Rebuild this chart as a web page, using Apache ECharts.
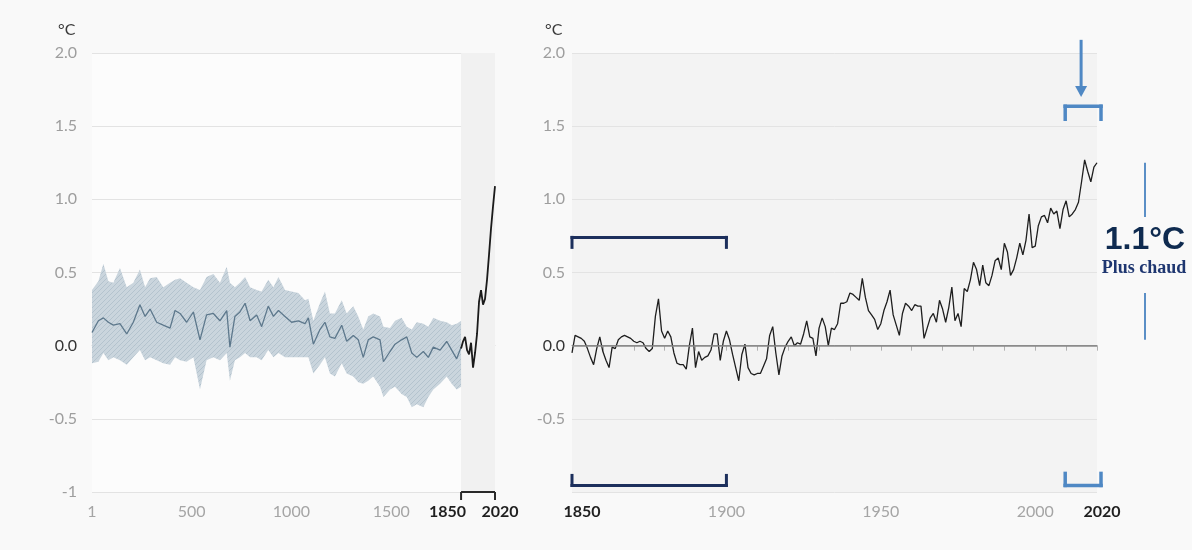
<!DOCTYPE html>
<html><head><meta charset="utf-8">
<script src="https://cdn.jsdelivr.net/npm/echarts@6/dist/echarts.min.js"></script>
<style>html,body{margin:0;padding:0;background:#f9f9f9}#c{width:1192px;height:550px}</style>
</head><body><div id="c"></div>
<script>
// ---- Reconstruction (years 1-1850) ----
const reconYears = [1,33,58,83,108,141,175,208,241,267,292,325,358,392,417,442,475,509,542,575,609,642,676,692,717,742,768,793,826,851,884,910,935,968,1001,1035,1068,1085,1110,1143,1168,1193,1218,1252,1277,1310,1335,1360,1385,1410,1444,1461,1494,1519,1552,1578,1603,1628,1661,1686,1711,1745,1778,1803,1828,1850];
const reconMean = [0.09,0.17,0.19,0.16,0.14,0.15,0.08,0.16,0.28,0.20,0.25,0.16,0.14,0.12,0.24,0.22,0.16,0.23,0.04,0.21,0.22,0.17,0.24,-0.01,0.20,0.23,0.29,0.17,0.21,0.13,0.27,0.20,0.24,0.20,0.16,0.17,0.15,0.19,0.01,0.11,0.16,0.06,0.05,0.14,0.03,0.07,0.04,-0.08,0.04,0.06,0.04,-0.11,-0.04,0.01,0.04,0.06,-0.05,-0.08,-0.04,-0.08,-0.01,-0.03,0.03,-0.03,-0.09,-0.01];
const reconUpper = [0.38,0.44,0.56,0.44,0.43,0.53,0.40,0.43,0.52,0.40,0.46,0.47,0.40,0.43,0.45,0.46,0.43,0.40,0.38,0.47,0.49,0.43,0.54,0.43,0.40,0.43,0.47,0.40,0.38,0.37,0.45,0.40,0.47,0.38,0.37,0.36,0.31,0.32,0.17,0.29,0.37,0.22,0.22,0.31,0.22,0.27,0.20,0.11,0.20,0.22,0.20,0.13,0.12,0.17,0.19,0.13,0.11,0.16,0.15,0.13,0.19,0.17,0.16,0.14,0.15,0.17];
const reconLower = [-0.12,-0.11,-0.05,-0.10,-0.08,-0.10,-0.13,-0.08,-0.03,-0.10,-0.08,-0.10,-0.12,-0.13,-0.08,-0.10,-0.11,-0.08,-0.30,-0.10,-0.08,-0.10,-0.05,-0.24,-0.10,-0.08,-0.05,-0.08,-0.08,-0.10,-0.03,-0.08,-0.05,-0.08,-0.08,-0.08,-0.08,-0.08,-0.19,-0.13,-0.08,-0.19,-0.21,-0.12,-0.19,-0.21,-0.25,-0.26,-0.24,-0.21,-0.28,-0.35,-0.30,-0.28,-0.33,-0.35,-0.42,-0.40,-0.42,-0.35,-0.30,-0.26,-0.21,-0.26,-0.30,-0.28];

// ---- Observations on the left panel (decadal) ----
const obsDecadeYears = [1850,1860,1870,1880,1890,1900,1910,1920,1930,1940,1950,1960,1970,1980,1990,2000,2010,2020];
const obsDecadeValues = [-0.02,0.03,0.06,-0.03,-0.06,0.02,-0.15,-0.05,0.08,0.30,0.38,0.28,0.32,0.45,0.62,0.80,0.95,1.09];

// ---- Annual observations 1850-2020 (right panel) ----
const annualStart = 1850;
const annualValues = [
 -0.05,0.07,0.06,0.05,0.03,-0.02,-0.08,-0.13,-0.02,0.06,
 -0.04,-0.10,-0.15,-0.01,-0.02,0.04,0.06,0.07,0.06,0.05,
 0.03,0.02,0.03,0.02,-0.02,-0.04,-0.02,0.20,0.32,0.10,
 0.05,0.10,0.06,-0.05,-0.12,-0.13,-0.13,-0.16,0.00,0.12,
 -0.15,-0.04,-0.10,-0.08,-0.07,-0.03,0.08,0.08,-0.10,0.03,
 0.10,0.04,-0.06,-0.15,-0.24,-0.06,0.01,-0.15,-0.19,-0.20,
 -0.19,-0.19,-0.14,-0.09,0.07,0.13,-0.05,-0.20,-0.07,-0.01,
 0.03,0.06,0.00,0.02,0.01,0.08,0.17,0.06,0.05,-0.07,
 0.12,0.19,0.13,0.00,0.12,0.11,0.15,0.29,0.29,0.30,
 0.36,0.35,0.33,0.31,0.46,0.33,0.24,0.21,0.18,0.11,
 0.15,0.24,0.30,0.38,0.21,0.14,0.07,0.22,0.29,0.27,
 0.24,0.28,0.27,0.27,0.05,0.12,0.19,0.22,0.16,0.31,
 0.25,0.16,0.26,0.40,0.17,0.22,0.13,0.39,0.37,0.45,
 0.57,0.52,0.41,0.55,0.43,0.41,0.48,0.58,0.60,0.52,
 0.70,0.64,0.48,0.52,0.60,0.70,0.62,0.72,0.90,0.67,
 0.68,0.82,0.88,0.89,0.84,0.94,0.90,0.92,0.80,0.93,
 0.99,0.88,0.90,0.93,0.98,1.12,1.27,1.19,1.12,1.22,1.25];
const annualYears = annualValues.map((v, i) => annualStart + i);

// ---- Ticks / labels ----
const yTicks = [-1, -0.5, 0, 0.5, 1, 1.5, 2];
const leftXLabels = [1, 500, 1000, 1500, 1850, 2020];
const leftXTicks = [500, 1000, 1500];
const rightXLabels = [1850, 1900, 1950, 2000, 2020];
const rightXTicks = [1850,1860,1870,1880,1890,1900,1910,1920,1930,1940,1950,1960,1970,1980,1990,2000,2010,2020];
const baselinePeriod = [1850, 1900];
const recentPeriod = [2011, 2020];
const warming = 1.1;

// hatch pattern for uncertainty band
const pc = document.createElement('canvas'); pc.width = 5; pc.height = 5;
const g = pc.getContext('2d');
g.fillStyle = '#c8d3dc'; g.fillRect(0, 0, 5, 5);
g.strokeStyle = '#b0c0cc'; g.lineWidth = 1;
g.beginPath(); g.moveTo(0, 5); g.lineTo(5, 0); g.stroke();

const FONT = 'Lato, "Noto Sans", sans-serif';
const BLUE = '#4f88c4';
const NAVY = '#1c2f5c';

const chart = echarts.init(document.getElementById('c'), null, {renderer: 'canvas'});

function yLabelColor(v) { return Number(v) === 0 ? '#333333' : '#9e9e9e'; }

chart.setOption({
  animation: false,
  backgroundColor: '#f9f9f9',
  grid: [
    {left: 92, right: 697, top: 53, bottom: 58, show: true, backgroundColor: '#fcfcfc', borderWidth: 0, outerBoundsMode: 'none'},
    {left: 572, right: 95, top: 53, bottom: 58, show: true, backgroundColor: '#f3f3f3', borderWidth: 0, outerBoundsMode: 'none'}
  ],
  xAxis: [
    {gridIndex: 0, type: 'value', min: 1, max: 2020,
     axisLine: {lineStyle: {color: '#d3d3d3'}},
     axisTick: {customValues: leftXTicks, length: 5, lineStyle: {color: '#cfcfcf'}},
     splitLine: {show: false},
     axisLabel: {customValues: leftXLabels, margin: 12, fontFamily: FONT, fontSize: 16, color: '#a5a5a5',
       formatter: v => v === 1850 ? '{l|1850}' : (v === 2020 ? '{r|2020}' : String(v)),
       rich: {
         l: {fontFamily: FONT, fontSize: 16, fontWeight: 'bold', color: '#1f1f1f', padding: [0, 27, 0, 0]},
         r: {fontFamily: FONT, fontSize: 16, fontWeight: 'bold', color: '#1f1f1f', padding: [0, 0, 0, 10]}
       }}
    },
    {gridIndex: 1, type: 'value', min: 1850, max: 2020, interval: 10,
     axisLine: {lineStyle: {color: '#8c8c8c'}},
     axisTick: {customValues: rightXTicks, length: 5, lineStyle: {color: '#b0b0b0'}},
     splitLine: {show: false},
     axisLabel: {customValues: rightXLabels, margin: 12, fontFamily: FONT, fontSize: 16, color: '#a5a5a5',
       formatter: v => v === 1850 ? '{l|1850}' : (v === 2020 ? '{r|2020}' : String(v)),
       rich: {
         l: {fontFamily: FONT, fontSize: 16, fontWeight: 'bold', color: '#1f1f1f', padding: [0, 0, 0, 20]},
         r: {fontFamily: FONT, fontSize: 16, fontWeight: 'bold', color: '#1f1f1f', padding: [0, 0, 0, 10]}
       }}
    }
  ],
  yAxis: [
    {gridIndex: 0, type: 'value', min: yTicks[0], max: yTicks[yTicks.length - 1], interval: 0.5,
     axisLine: {show: false}, axisTick: {show: false},
     splitLine: {lineStyle: {color: '#e3e3e3'}},
     axisLabel: {margin: 15, fontFamily: FONT, fontSize: 16, color: yLabelColor,
       formatter: v => v === -1 ? '-1' : v.toFixed(1)}
    },
    {gridIndex: 1, type: 'value', min: yTicks[0], max: yTicks[yTicks.length - 1], interval: 0.5,
     axisLine: {show: false}, axisTick: {show: false},
     splitLine: {lineStyle: {color: '#e3e3e3'}},
     axisLabel: {margin: 7, fontFamily: FONT, fontSize: 16, color: yLabelColor,
       formatter: v => v === -1 ? '' : v.toFixed(1)}
    }
  ],
  graphic: [
    {type: 'text', left: 58, top: 22, style: {text: '°C', font: '16px ' + FONT, fill: '#3a3a3a'}},
    {type: 'text', left: 545, top: 22, style: {text: '°C', font: '16px ' + FONT, fill: '#3a3a3a'}}
  ],
  series: [
    // uncertainty band
    {type: 'custom', xAxisIndex: 0, yAxisIndex: 0, silent: true,
     data: reconYears.map((y, i) => [y, reconLower[i], reconUpper[i]]),
     encode: {x: 0, y: [1, 2]},
     renderItem: function (params, api) {
       if (params.dataIndex !== 0) return null;
       const pts = [];
       for (let i = 0; i < reconYears.length; i++) pts.push(api.coord([reconYears[i], reconUpper[i]]));
       for (let i = reconYears.length - 1; i >= 0; i--) pts.push(api.coord([reconYears[i], reconLower[i]]));
       return {type: 'polygon', shape: {points: pts}, style: {fill: {image: pc, repeat: 'repeat'}, opacity: 0.95}};
     }
    },
    // reconstruction mean
    {type: 'line', xAxisIndex: 0, yAxisIndex: 0, silent: true, symbol: 'none',
     data: reconYears.map((y, i) => [y, reconMean[i]]),
     lineStyle: {color: '#5d788c', width: 1.3},
     markArea: {silent: true, itemStyle: {color: '#f1f1f1'}, data: [[{xAxis: 1850}, {xAxis: 2020}]]}
    },
    // observations (left)
    {type: 'line', xAxisIndex: 0, yAxisIndex: 0, silent: true, symbol: 'none',
     data: obsDecadeYears.map((y, i) => [y, obsDecadeValues[i]]),
     lineStyle: {color: '#1b1b1b', width: 1.8}
    },
    // bracket on the left x-axis
    {type: 'custom', xAxisIndex: 0, yAxisIndex: 0, silent: true, clip: false, z: 5,
     data: [[obsDecadeYears[0], obsDecadeYears[obsDecadeYears.length - 1], -1]],
     encode: {x: [0, 1], y: 2},
     renderItem: function (params, api) {
       const a = api.coord([api.value(0), api.value(2)]);
       const b = api.coord([api.value(1), api.value(2)]);
       const st = {stroke: '#2a2a2a', lineWidth: 2};
       return {type: 'group', children: [
         {type: 'line', shape: {x1: a[0], y1: a[1], x2: b[0], y2: b[1]}, style: st},
         {type: 'line', shape: {x1: a[0], y1: a[1], x2: a[0], y2: a[1] + 8}, style: st},
         {type: 'line', shape: {x1: b[0], y1: b[1], x2: b[0], y2: b[1] + 8}, style: st}
       ]};
     }
    },
    // annual observations (right)
    {type: 'line', xAxisIndex: 1, yAxisIndex: 1, silent: true, symbol: 'none',
     data: annualYears.map((y, i) => [y, annualValues[i]]),
     lineStyle: {color: '#1e1e1e', width: 1.3},
     markLine: {silent: true, symbol: 'none', label: {show: false},
       lineStyle: {color: '#8a8a8a', width: 1.5, type: 'solid'}, data: [{yAxis: 0}]}
    },
    // brackets & annotations (right)
    {type: 'custom', xAxisIndex: 1, yAxisIndex: 1, silent: true, clip: false, z: 5,
     data: [[baselinePeriod[0], baselinePeriod[1], 0], [recentPeriod[0], recentPeriod[1], 0]],
     encode: {x: [0, 1], y: 2},
     renderItem: function (params, api) {
       const s = api.value(0), e = api.value(1);
       const kids = [];
       const seg = (p, q, st) => kids.push({type: 'line', shape: {x1: p[0], y1: p[1], x2: q[0], y2: q[1]}, style: st});
       if (params.dataIndex === 0) {
         const st = {stroke: NAVY, lineWidth: 3, lineCap: 'square'};
         const a = api.coord([s, 0.74]), b = api.coord([e, 0.74]);
         seg(a, b, st); seg(a, [a[0], a[1] + 10], st); seg(b, [b[0], b[1] + 10], st);
         const c = api.coord([s, -0.955]), d = api.coord([e, -0.955]);
         seg(c, d, st); seg(c, [c[0], c[1] - 10], st); seg(d, [d[0], d[1] - 10], st);
       } else {
         const st = {stroke: BLUE, lineWidth: 3.5, lineCap: 'square'};
         const pad = 4;
         let a = api.coord([s, 1.636]), b = api.coord([e, 1.636]);
         a = [a[0] - pad, a[1]]; b = [b[0] + pad, b[1]];
         seg(a, b, st); seg(a, [a[0], a[1] + 13], st); seg(b, [b[0], b[1] + 13], st);
         let c = api.coord([s, -0.955]), d = api.coord([e, -0.955]);
         c = [c[0] - pad, c[1]]; d = [d[0] + pad, d[1]];
         seg(c, d, st); seg(c, [c[0], c[1] - 12], st); seg(d, [d[0], d[1] - 12], st);
         // arrow
         const mid = (s + e) / 2;
         const top = api.coord([mid, 2.09]), tip = api.coord([mid, 1.70]);
         const mx = (a[0] + b[0]) / 2 - 2;
         seg([mx, top[1]], [mx, tip[1] - 8], {stroke: BLUE, lineWidth: 3});
         kids.push({type: 'polygon', shape: {points: [[mx, tip[1]], [mx - 6, tip[1] - 11], [mx + 6, tip[1] - 11]]}, style: {fill: BLUE}});
         // warming marker
         const xr = api.coord([e, 0])[0] + 48;
         const lst = {stroke: '#5b8fc6', lineWidth: 2};
         seg([xr, api.coord([e, 1.25])[1]], [xr, api.coord([e, 0.88])[1]], lst);
         seg([xr, api.coord([e, 0.36])[1]], [xr, api.coord([e, 0.04])[1]], lst);
         kids.push({type: 'text', style: {text: warming.toFixed(1) + '°C', x: xr, y: api.coord([e, 0.72])[1],
           font: 'bold 32px "Liberation Sans", Arial, sans-serif', fill: '#0f2b50', align: 'center', verticalAlign: 'middle'}});
         kids.push({type: 'text', style: {text: 'Plus chaud', x: xr - 1, y: api.coord([e, 0.53])[1],
           font: 'bold 18px "Liberation Serif", "DejaVu Serif", serif', fill: '#1e3670', align: 'center', verticalAlign: 'middle'}});
       }
       return {type: 'group', children: kids};
     }
    }
  ]
});
</script>
</body></html>
